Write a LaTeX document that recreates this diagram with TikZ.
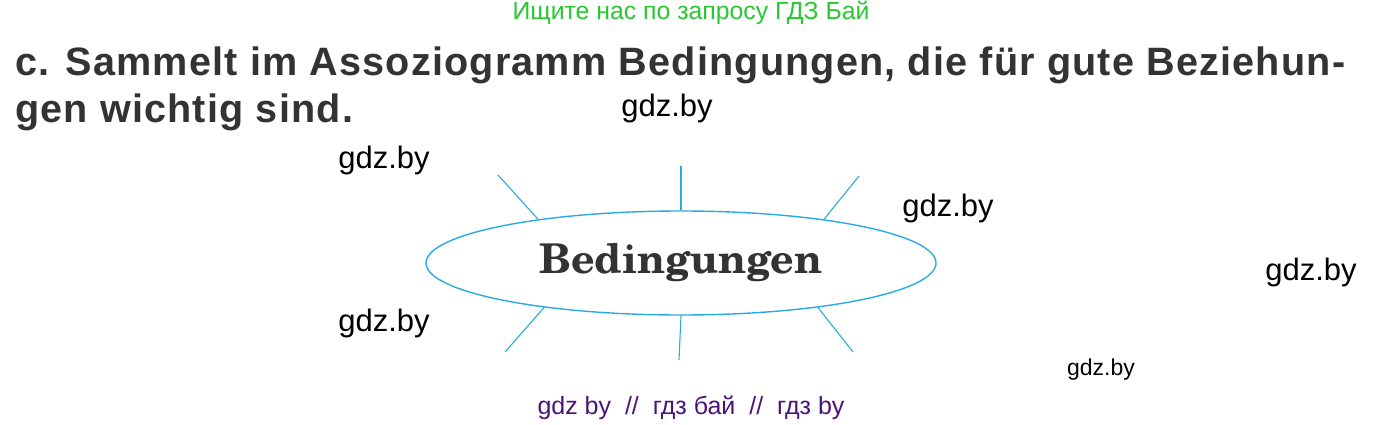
\documentclass[tikz,border=0pt]{standalone}
\usepackage{fontspec}
\setmainfont{Liberation Sans}
\newfontfamily\schola{texgyreschola-bold.otf}
\newfontfamily\headfont{Liberation Sans}[LetterSpace=3.0]
\usetikzlibrary{shapes.geometric}
\definecolor{spoke}{RGB}{41,171,226}
\definecolor{headc}{RGB}{51,51,51}
\definecolor{wmgreen}{RGB}{40,200,50}
\definecolor{wmpurple}{RGB}{75,20,120}
\tikzset{
  spokeline/.style={draw=spoke, line width=1.1pt},
  wm/.style={font=\fontsize{31}{36}\selectfont, text=black, inner sep=0pt},
  wmsmall/.style={font=\fontsize{23}{27}\selectfont, text=black, inner sep=0pt},
  heading/.style={font=\headfont\fontsize{39.6}{46}\selectfont\bfseries, text=headc, inner sep=0pt, anchor=base west},
}
\begin{document}
\begin{tikzpicture}[x=1pt,y=-1pt]
\useasboundingbox (0,0) rectangle (1386,425);
\fill[white] (0,0) rectangle (1386,425);
% top watermark
\node[font=\fontsize{24.8}{29}\selectfont, text=wmgreen, inner sep=0pt] (wtop) at (691,13) {Ищите нас по запросу ГДЗ Бай};
% heading
\node[heading] (h1) at (15,76) {c. Sammelt im Assoziogramm Bedingungen, die für gute Beziehun-};
\node[heading] (h2) at (15,123) {gen wichtig sind.};
% ellipse
\node[ellipse, draw=spoke, line width=1.4pt, minimum width=510pt, minimum height=104pt, inner sep=0pt,
      font=\schola\fontsize{41}{48}\selectfont, text=headc] (ell) at (681,263) {Bedingungen};
% spokes
\coordinate (ctl) at (498,175);
\coordinate (ct)  at (681,166);
\coordinate (ctr) at (859,176);
\coordinate (cbl) at (505,352);
\coordinate (cb)  at (679,360);
\coordinate (cbr) at (853,352);
\draw[spokeline] (ell.163) -- (ctl);
\draw[spokeline] (ell.north) -- (ct);
\draw[spokeline] (ell.17) -- (ctr);
\draw[spokeline] (ell.-162) -- (cbl);
\draw[spokeline] (ell.south) -- (cb);
\draw[spokeline] (ell.-18) -- (cbr);
% watermarks
\node[wm] (w1) at (667,108) {gdz.by};
\node[wm] (w2) at (384,160) {gdz.by};
\node[wm] (w3) at (948,208) {gdz.by};
\node[wm] (w4) at (1311,272) {gdz.by};
\node[wm] (w5) at (384,323) {gdz.by};
\node[wmsmall] (w6) at (1101,370) {gdz.by};
\node[font=\fontsize{25}{29}\selectfont, text=wmpurple, inner sep=0pt] (wbot) at (691,408) {gdz by\ \ //\ \ гдз бай\ \ //\ \ гдз by};
\end{tikzpicture}
\end{document}
